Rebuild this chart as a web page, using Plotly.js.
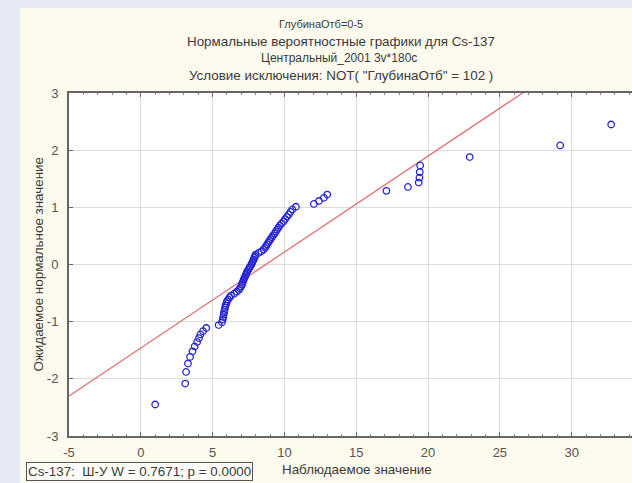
<!DOCTYPE html>
<html>
<head>
<meta charset="utf-8">
<script src="https://cdn.plot.ly/plotly-3.0.1.min.js"></script>
<style>
  html, body { margin: 0; padding: 0; background: #e6eaf4; width: 632px; height: 483px; overflow: hidden; }
  #panel { position: absolute; left: 20px; top: 8px; width: 612px; height: 475px; background: #fdfaee; }
  #chart { width: 612px; height: 475px; }
</style>
</head>
<body>
<div id="panel"><div id="chart"></div></div>
<script>
// Observed Cs-137 values, sorted ascending
const observed = [
  1.0, 3.09, 3.15, 3.28, 3.43, 3.6, 3.75, 3.92, 4.05, 4.15, 4.33, 4.56,
  5.42, 5.65, 5.70, 5.74, 5.77, 5.80, 5.83, 5.86, 5.90, 5.95, 6.00, 6.08,
  6.18, 6.28, 6.50, 6.68, 6.82, 6.90, 6.98, 7.05, 7.08, 7.12, 7.17, 7.22,
  7.28, 7.32, 7.37, 7.42, 7.50, 7.56, 7.63, 7.70, 7.75, 7.80, 7.86, 7.90,
  7.95, 7.99, 8.20, 8.40, 8.55, 8.65, 8.72, 8.80, 8.88, 8.96, 9.04, 9.13,
  9.22, 9.32, 9.40, 9.49, 9.58, 9.68, 9.80, 9.95, 10.05, 10.18, 10.30, 10.42,
  10.55, 10.80, 12.05, 12.40, 12.75, 12.98, 17.1, 18.6, 19.35, 19.4, 19.42, 19.45,
  22.9, 29.2, 32.75
];

// Expected normal values for each rank
const expectedNormal = [
  -2.449, -2.083, -1.880, -1.733, -1.616, -1.518, -1.433, -1.357, -1.288, -1.224, -1.166, -1.111,
  -1.060, -1.010, -0.964, -0.919, -0.876, -0.834, -0.794, -0.756, -0.718, -0.681, -0.645, -0.611,
  -0.576, -0.543, -0.510, -0.477, -0.445, -0.414, -0.383, -0.352, -0.322, -0.292, -0.262, -0.232,
  -0.202, -0.173, -0.144, -0.115, -0.086, -0.057, -0.029, 0.000, 0.029, 0.057, 0.086, 0.115,
  0.144, 0.173, 0.202, 0.232, 0.262, 0.292, 0.322, 0.352, 0.383, 0.414, 0.445, 0.477,
  0.510, 0.543, 0.576, 0.611, 0.645, 0.681, 0.718, 0.756, 0.794, 0.834, 0.876, 0.919,
  0.964, 1.010, 1.060, 1.111, 1.166, 1.224, 1.288, 1.357, 1.433, 1.518, 1.616, 1.733,
  1.880, 2.083, 2.449
];

// Reference normal line: z = (x - mean) / sd
const fitMean = 8.7;
const fitSd = 5.96;
const xRange = [-5, 34.2];
const yRange = [-3, 3];
const xTickVals = [-5, 0, 5, 10, 15, 20, 25, 30];
const xTickText = ['-5', '0', '5', '10', '15', '20', '25', '30'];
const yTickVals = [-3, -2, -1, 0, 1, 2, 3];
const yTickText = ['-3', '-2', '-1', '0', '1', '2', '3'];

const titleLines = [
  'ГлубинаОтб=0-5',
  'Нормальные вероятностные графики для Cs-137',
  'Центральный_2001 3v*180c',
  'Условие исключения: NOT( "ГлубинаОтб" = 102 )'
];
const xTitle = 'Наблюдаемое значение';
const yTitle = 'Ожидаемое нормальное значение';
const statsLabel = 'Cs-137:  Ш-У W = 0.7671; p = 0.0000';

const lineX = xRange.slice();
const lineY = lineX.map(x => (x - fitMean) / fitSd);

const font = 'Arial, "Liberation Sans", sans-serif';
const textColor = '#3a3a3a';
const textSize = 13.4;

const traces = [
  {
    x: lineX, y: lineY, mode: 'lines', type: 'scatter',
    line: { color: '#e07474', width: 1.3 }, hoverinfo: 'skip'
  },
  {
    x: observed, y: expectedNormal, mode: 'markers', type: 'scatter',
    marker: { symbol: 'circle-open', size: 6.5, color: '#2424d4', line: { width: 1.3, color: '#2424d4' } }
  }
];

const titleY = [1.200, 1.151, 1.102, 1.052];
const titleX = [0.448, 0.483, 0.479, 0.483];
const titleSize = [11, textSize, 12, textSize];
const annotations = titleLines.map((t, i) => ({
  text: t, xref: 'paper', yref: 'paper', x: titleX[i], y: titleY[i],
  xanchor: 'center', yanchor: 'middle', showarrow: false,
  font: { family: font, size: titleSize[i], color: textColor }
}));
// axis titles
annotations.push({
  text: xTitle, xref: 'paper', yref: 'paper', x: 0.512, y: -0.099,
  xanchor: 'center', yanchor: 'middle', showarrow: false,
  font: { family: font, size: textSize, color: textColor }
});
annotations.push({
  text: yTitle, xref: 'paper', yref: 'paper', x: -0.055, y: 0.5, textangle: -90,
  xanchor: 'center', yanchor: 'middle', showarrow: false,
  font: { family: font, size: textSize, color: textColor }
});
// Shapiro-Wilk result box
annotations.push({
  text: statsLabel, xref: 'paper', yref: 'paper', x: -0.0764, y: -0.131,
  xanchor: 'left', yanchor: 'bottom', showarrow: false,
  bordercolor: '#555', borderwidth: 1, borderpad: 1, bgcolor: '#fffef8',
  font: { family: font, size: textSize, color: textColor }
});

const layout = {
  width: 612, height: 475,
  margin: { l: 49, r: 0, t: 85, b: 47 },
  paper_bgcolor: '#fdfaee',
  plot_bgcolor: '#ffffff',
  showlegend: false,
  font: { family: font, size: 13, color: textColor },
  xaxis: {
    range: xRange, tickvals: xTickVals, ticktext: xTickText, ticks: 'inside', ticklen: 4, tickcolor: '#666',
    showline: true, linecolor: '#666', linewidth: 2, mirror: 'ticks',
    showgrid: true, gridcolor: '#dcdcdc', gridwidth: 1, zeroline: false,
    minor: { dtick: 1, ticks: 'inside', ticklen: 2, tickcolor: '#888', showgrid: false },
    tickfont: { family: font, size: 13, color: '#555' },
    ticklabelstandoff: 3
  },
  yaxis: {
    range: yRange, tickvals: yTickVals, ticktext: yTickText, ticks: 'inside', ticklen: 4, tickcolor: '#666',
    showline: true, linecolor: '#666', linewidth: 2,
    showgrid: true, gridcolor: '#dcdcdc', gridwidth: 1, zeroline: false,
    tickfont: { family: font, size: 13, color: '#555' },
    ticklabelstandoff: 6
  },
  annotations: annotations
};

Plotly.newPlot('chart', traces, layout, { staticPlot: true, displayModeBar: false });
</script>
</body>
</html>
